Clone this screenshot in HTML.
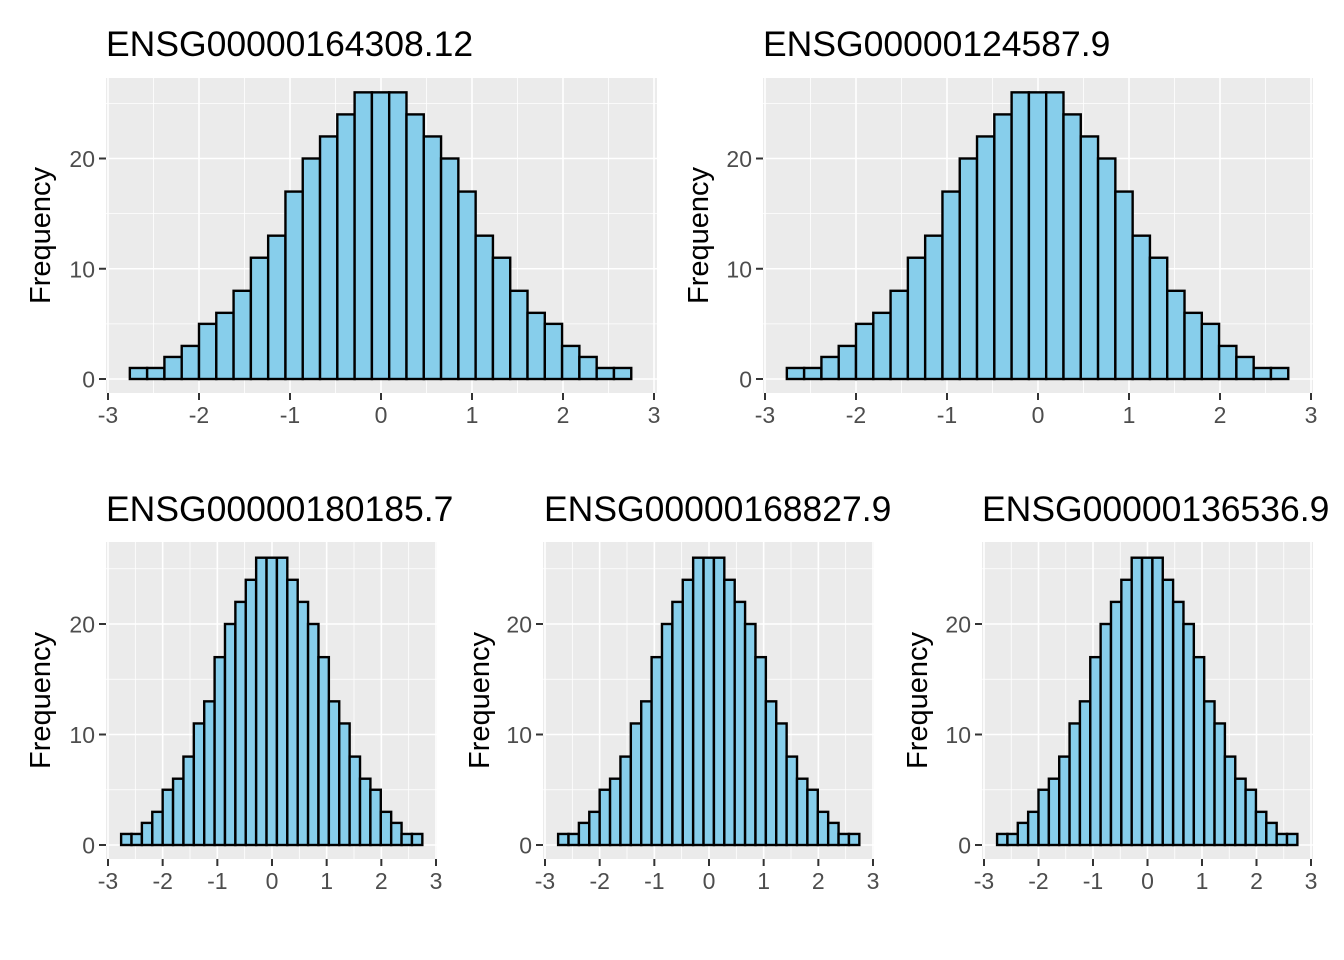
<!DOCTYPE html>
<html><head><meta charset="utf-8"><style>
body{margin:0;background:#fff;}
svg{display:block;font-family:"Liberation Sans",sans-serif;}
</style></head><body>
<svg id="chart" width="1344" height="960" viewBox="0 0 1344 960"></svg>
<script>
const counts = [1,1,2,3,5,6,8,11,13,17,20,22,24,26,26,26,24,22,20,17,13,11,8,6,5,3,2,1,1];
const binStart = -2.76;
const binWidth = 0.19;
const xTicks = [-3,-2,-1,0,1,2,3];
const yTicks = [0,10,20];
const titles = ["ENSG00000164308.12","ENSG00000124587.9","ENSG00000180185.7","ENSG00000168827.9","ENSG00000136536.9"];

const panels = [
  {l:106,r:657,t:78,b:393,xa:108,xb:654,y0:379,y20:158.5,title:106,ty:56,ax:40},
  {l:763,r:1313,t:78,b:393,xa:765,xb:1311,y0:379,y20:158.5,title:763,ty:56,ax:698},
  {l:106,r:437,t:542,b:859,xa:108,xb:436,y0:845,y20:624,title:106,ty:521,ax:40},
  {l:543,r:874,t:542,b:859,xa:545,xb:873,y0:845,y20:624,title:544,ty:521,ax:479},
  {l:982,r:1313,t:542,b:859,xa:984,xb:1311,y0:845,y20:624,title:982,ty:521,ax:917}
];
const NS="http://www.w3.org/2000/svg";
const svg=document.getElementById('chart');
function mk(tag,attrs,parent){const e=document.createElementNS(NS,tag);for(const k in attrs)e.setAttribute(k,attrs[k]);(parent||svg).appendChild(e);return e;}
panels.forEach((p,i)=>{
  const g=mk('g',{});
  
  
  const xs=v=>p.xa+(v+3)*(p.xb-p.xa)/6;
  const ys=v=>p.y0-v*(p.y0-p.y20)/20;
  const bg=mk('rect',{x:p.l,y:p.t,width:p.r-p.l,height:p.b-p.t,fill:'#EBEBEB'},g);
  
  
  for(let k=0;k<6;k++){const v=xTicks[k]+0.5;mk('line',{x1:xs(v),x2:xs(v),y1:p.t,y2:p.b,stroke:'#fff','stroke-width':0.8},g);}
  for(let k=0;k<yTicks.length;k++){const v=yTicks[k]+5;mk('line',{x1:p.l,x2:p.r,y1:ys(v),y2:ys(v),stroke:'#fff','stroke-width':0.8},g);}
  xTicks.forEach(v=>mk('line',{x1:xs(v),x2:xs(v),y1:p.t,y2:p.b,stroke:'#fff','stroke-width':1.6},g));
  yTicks.forEach(v=>mk('line',{x1:p.l,x2:p.r,y1:ys(v),y2:ys(v),stroke:'#fff','stroke-width':1.6},g));
  counts.forEach((c,j)=>{
    const x0=xs(binStart+j*binWidth),x1=xs(binStart+(j+1)*binWidth);
    const r=mk('rect',{x:x0,y:ys(c),width:x1-x0,height:ys(0)-ys(c),fill:'#87CEEB',stroke:'#000','stroke-width':2.4},g);
    
    
  });
  xTicks.forEach(v=>{
    mk('line',{x1:xs(v),x2:xs(v),y1:p.b,y2:p.b+7,stroke:'#333','stroke-width':2},g);
    const t=mk('text',{x:xs(v),y:p.b+30,'font-size':23,fill:'#4D4D4D','text-anchor':'middle'},g);
    t.textContent=v;
    
    
  });
  yTicks.forEach(v=>{
    mk('line',{x1:p.l-7,x2:p.l,y1:ys(v),y2:ys(v),stroke:'#333','stroke-width':2},g);
    const t=mk('text',{x:p.l-11,y:ys(v)+8.5,'font-size':23,fill:'#4D4D4D','text-anchor':'end'},g);
    t.textContent=v;
    
    
  });
  const tt=mk('text',{x:p.title,y:p.ty,'font-size':35.5,fill:'#000'},g);
  tt.textContent=titles[i];
  
  
  const cy=(p.t+p.b)/2;
  const at=mk('text',{x:0,y:0,'font-size':29,fill:'#000','text-anchor':'middle',transform:`translate(${p.ax+10},${cy}) rotate(-90)`},g);
  at.textContent='Frequency';
  
  
});
</script>
</body></html>
